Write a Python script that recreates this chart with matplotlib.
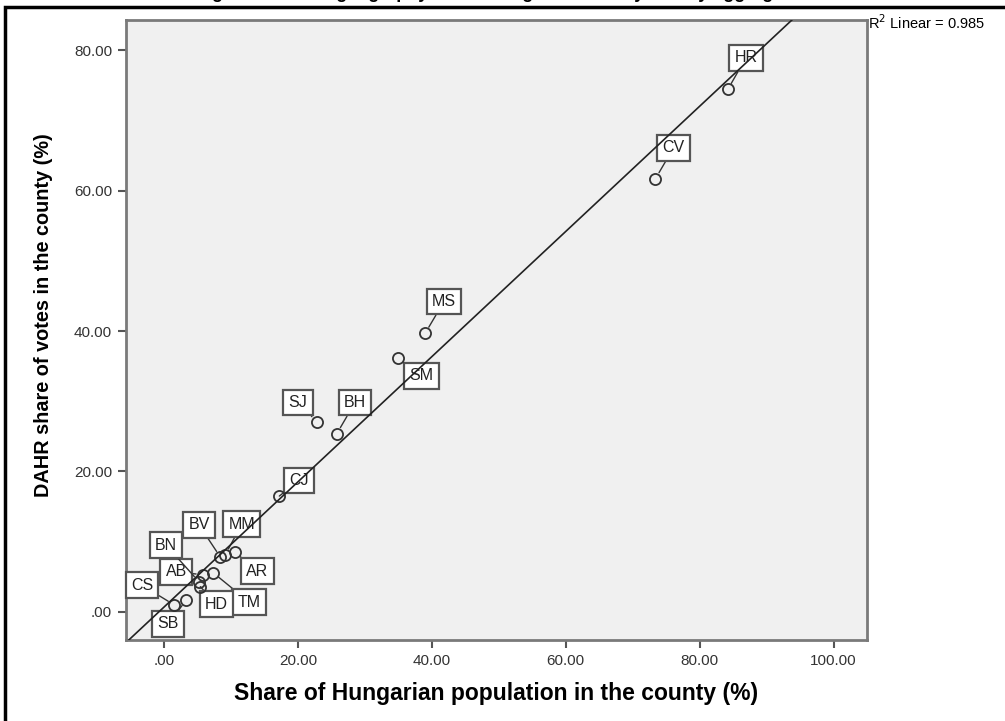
import numpy as np
import matplotlib
matplotlib.use("Agg")
from matplotlib import pyplot as plt
from matplotlib.patches import Rectangle

# county data: Hungarian population share (x) vs DAHR vote share (y)
counties = ['HR', 'CV', 'MS', 'SM', 'BH', 'SJ', 'CJ', 'BV', 'MM', 'AR',
            'TM', 'AB', 'BN', 'HD', 'SB', 'CS']
hun_share = [84.2, 73.4, 39.0, 34.9, 25.8, 22.8, 17.2, 8.4, 9.1, 10.6,
             7.3, 5.8, 5.2, 5.4, 3.3, 1.5]
dahr_share = [74.4, 61.7, 39.7, 36.2, 25.4, 27.1, 16.5, 7.8, 8.1, 8.5,
              5.6, 5.3, 4.3, 3.6, 1.7, 1.0]
# label box positions
label_x = [86.9, 76.1, 41.8, 38.4, 28.5, 20.0, 20.1, 5.2, 11.6, 13.9,
           12.7, 1.8, 0.3, 7.8, 0.6, -3.3]
label_y = [78.9, 66.1, 44.2, 33.6, 29.8, 29.8, 18.7, 12.4, 12.5, 5.8,
           1.4, 5.7, 9.5, 1.1, -1.7, 3.8]
x_ticks = [0, 20, 40, 60, 80, 100]
y_ticks = [0, 20, 40, 60, 80]

tick_font = ['Liberation Sans Narrow', 'Liberation Sans', 'DejaVu Sans']
label_font = ['Liberation Sans', 'DejaVu Sans']


def fmt(v):
    s = '%.2f' % v
    return s[1:] if s.startswith('0') else s


fig = plt.figure(figsize=(10.05, 7.21), dpi=100)
ax = fig.add_axes([0.1254, 0.1123, 0.7373, 0.86])
ax.set_facecolor('#f0f0f0')

ax.set_xlim(-5.7, 105)
ax.set_ylim(-4.0, 84.3)

# fit line
slope, icpt = np.polyfit(hun_share, dahr_share, 1)
xs = np.array(ax.get_xlim())
ax.plot(xs, slope * xs + icpt, color='#222222', lw=1.2, zorder=6)

ax.plot(hun_share, dahr_share, 'o', ms=8, mfc='none', mec='#333333',
        mew=1.3, zorder=5)

for name, px, py, lx, ly in zip(counties, hun_share, dahr_share, label_x, label_y):
    ax.annotate(name, xy=(px, py), xytext=(lx, ly), textcoords='data',
                ha='center', va='center', fontsize=11.5, color='#222222',
                family=label_font,
                bbox=dict(boxstyle='square,pad=0.33', fc='white', ec='#555555', lw=1.6),
                arrowprops=dict(arrowstyle='-', color='#333333', lw=1.0,
                                shrinkA=0, shrinkB=5),
                zorder=4)

ax.set_xticks(x_ticks)
ax.set_xticklabels([fmt(v) for v in x_ticks], family=tick_font, fontsize=11, color='#333333')
ax.set_yticks(y_ticks)
ax.set_yticklabels([fmt(v) for v in y_ticks], family=tick_font, fontsize=11, color='#333333')
ax.tick_params(length=6, width=1.5, color='#555555', pad=4)
for sp in ax.spines.values():
    sp.set_color('#7a7a7a')
    sp.set_linewidth(2)

ax.set_xlabel('Share of Hungarian population in the county (%)', fontsize=16.5,
              fontweight='bold', family=label_font, labelpad=10)
ax.set_ylabel('DAHR share of votes in the county (%)', fontsize=14.3,
              fontweight='bold', family=label_font)
ax.yaxis.set_label_coords(-0.099, 0.524)

fig.text(0.864, 0.955, r'R$^2$ Linear = 0.985', fontsize=10.5, family=tick_font,
         ha='left', va='bottom')

# title cut off at the top edge of the image
fig.text(0.5, 1.003, 'Figure 2. Ethnic geography of the Hungarian vote by county aggregates',
         fontsize=13, fontweight='bold', family=label_font, ha='center', va='baseline')

# outer frame
fig.patches.append(Rectangle((0.005, -0.05), 1.2, 1.04, transform=fig.transFigure,
                             fill=False, ec='black', lw=2.5, zorder=10))

fig.savefig('out.png', dpi=100)
